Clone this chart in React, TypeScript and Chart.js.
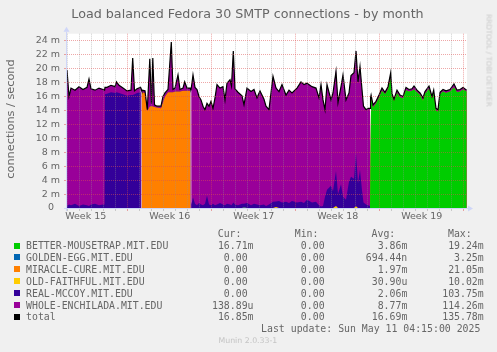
import { useEffect, useRef } from 'react';
import { Chart, registerables } from 'chart.js';

Chart.register(...registerables);

// ---------------------------------------------------------------------------
// Data (connections / second, in milli units "m").
// Sample times are hours since the left edge of the graph (800 h shown).
// ---------------------------------------------------------------------------
const hours = [
  // whole-enchilada carries the load
  0, 4, 8, 16, 24, 32, 40, 44, 48, 56, 64, 72, 75.2,
  // real-mccoy carries the load
  76, 80, 88, 96, 99, 104, 112, 120, 128, 131.4, 135, 140, 147.2,
  147.6, 149.2,
  // miracle-cure carries the load
  149.6, 156, 160.6, 165.6, 169, 171.6, 175, 180, 188, 192, 196, 202, 208.6, 212,
  216, 222, 226, 232, 235.4, 240, 246.4,
  246.8, 248.2,
  // whole-enchilada carries the load
  248.6, 252, 256, 260, 264, 268, 272, 276, 280, 284,
  288, 292, 296, 300, 306, 312, 316, 320, 326, 329,
  332.6, 336, 342, 350, 354, 360, 368, 374, 380, 386,
  394, 398, 404, 412, 418, 424, 430, 438, 444, 450,
  460, 468, 474, 480, 490, 498, 504, 508, 512, 516,
  520, 528, 532, 538, 542, 548, 552, 558, 564, 568,
  574, 578, 582, 586, 590, 593, 598, 602, 606,
  606.4, 607.8,
  // better-mousetrap carries the load
  608.2, 612, 618, 624, 630, 636, 642, 647.4, 650, 654,
  660, 666, 672, 678, 684, 690, 694, 700, 706, 712,
  716, 724, 730, 733.4, 738, 742, 746, 752, 758, 766,
  774, 780, 786, 792, 799.4,
];

const total = [
  19.8, 16.0, 17.2, 16.9, 17.4, 17.0, 17.3, 18.5, 17.1, 16.9, 17.2, 17.0, 16.9,
  17.3, 17.3, 17.6, 17.4, 18.1, 17.6, 17.2, 16.8, 16.9, 21.5, 16.8, 17.1, 17.3,
  17.2, 17.0,
  16.9, 16.8, 14.1, 21.4, 15.0, 21.5, 14.8, 14.6, 14.6, 16.0, 16.5, 17.0, 23.8, 17.0,
  17.2, 19.1, 17.0, 17.2, 18.1, 17.2, 17.2,
  17.1, 17.0,
  17.0, 19.1, 17.3, 17.0, 16.0, 15.5, 14.6, 14.1, 15.0, 14.6,
  15.3, 14.3, 15.8, 17.7, 17.2, 17.4, 15.5, 17.9, 18.4, 17.5,
  22.5, 17.1, 16.6, 16.1, 14.8, 17.2, 16.7, 17.0, 15.8, 16.8,
  15.6, 14.6, 14.1, 18.9, 17.2, 16.7, 17.7, 16.2, 16.9, 16.5,
  17.2, 18.1, 17.7, 17.9, 17.4, 17.2, 15.8, 17.7, 15.5, 14.1,
  17.7, 15.5, 16.5, 19.6, 15.1, 17.4, 19.1, 15.5, 16.5, 19.0,
  19.4, 22.5, 18.1, 20.3, 17.0, 14.6, 14.1, 14.3, 14.3,
  14.8, 15.8,
  16.2, 14.8, 15.3, 16.2, 17.2, 16.6, 17.4, 19.4, 16.4, 15.6,
  16.9, 16.2, 16.0, 17.3, 17.0, 17.1, 17.5, 16.9, 16.5, 15.8,
  16.7, 17.5, 16.0, 16.9, 14.3, 14.1, 16.6, 17.0, 16.8, 17.0,
  17.8, 16.9, 17.0, 17.3, 16.9,
];

const betterMousetrap = [
  0, 0, 0, 0, 0, 0, 0, 0, 0, 0, 0, 0, 0,
  0, 0, 0, 0, 0, 0, 0, 0, 0, 0, 0, 0, 0,
  0, 0,
  0, 0, 0, 0, 0, 0, 0, 0, 0, 0, 0, 0, 0, 0,
  0, 0, 0, 0, 0, 0, 0,
  0, 0,
  0, 0, 0, 0, 0, 0, 0, 0, 0, 0,
  0, 0, 0, 0, 0, 0, 0, 0, 0, 0,
  0, 0, 0, 0, 0, 0, 0, 0, 0, 0,
  0, 0, 0, 0, 0, 0, 0, 0, 0, 0,
  0, 0, 0, 0, 0, 0, 0, 0, 0, 0,
  0, 0, 0, 0, 0, 0, 0, 0, 0, 0,
  0, 0, 0, 0, 0, 0, 0, 0, 0,
  0, 0,
  15.8, 14.4, 15.0, 15.8, 16.8, 16.3, 17.0, 18.6, 16.1, 15.3,
  16.5, 15.9, 15.7, 16.9, 16.7, 16.8, 17.0, 16.6, 16.2, 15.4,
  16.4, 17.1, 15.7, 16.5, 14.0, 13.8, 16.3, 16.7, 16.5, 16.7,
  17.3, 16.6, 16.7, 17.0, 16.7,
];

const miracleCure = [
  0, 0, 0, 0, 0, 0, 0, 0, 0, 0, 0, 0, 0,
  0, 0, 0, 0, 0, 0, 0, 0, 0, 0, 0, 0, 0,
  0, 0,
  16.6, 16.5, 13.9, 14.6, 14.6, 14.6, 14.5, 14.4, 14.3, 15.2, 16.0, 16.6, 16.6, 16.6,
  16.7, 16.7, 16.7, 16.8, 16.8, 16.8, 16.8,
  0, 0,
  0, 0, 0, 0, 0, 0, 0, 0, 0, 0,
  0, 0, 0, 0, 0, 0, 0, 0, 0, 0,
  0, 0, 0, 0, 0, 0, 0, 0, 0, 0,
  0, 0, 0, 0, 0, 0, 0, 0, 0, 0,
  0, 0, 0, 0, 0, 0, 0, 0, 0, 0,
  0, 0, 0, 0, 0, 0, 0, 0, 0, 0,
  0, 0, 0, 0, 0, 0, 0, 0, 0,
  0, 0,
  0, 0, 0, 0, 0, 0, 0, 0, 0, 0,
  0, 0, 0, 0, 0, 0, 0, 0, 0, 0,
  0, 0, 0, 0, 0, 0, 0, 0, 0, 0,
  0, 0, 0, 0, 0,
];

const realMccoy = [
  0.3, 0.5, 0.4, 0.6, 0.3, 0.5, 0.4, 0.3, 0.5, 0.6, 0.4, 0.5, 0.5,
  16.3, 16.4, 16.6, 16.5, 16.6, 16.5, 16.3, 16.1, 16.2, 16.2, 16.3, 16.5, 16.6,
  0, 0,
  0, 0, 0, 0, 0, 0, 0, 0, 0, 0, 0, 0, 0, 0,
  0, 0, 0, 0, 0, 0, 0,
  0, 0,
  0.5, 1.5, 0.6, 0.4, 0.7, 0.5, 0.4, 0.6, 1.8, 0.5,
  0.4, 0.6, 0.4, 0.5, 0.7, 0.5, 0.4, 0.6, 0.5, 0.4,
  0.8, 0.5, 0.4, 0.6, 0.5, 0.7, 0.4, 0.6, 0.5, 0.4,
  0.5, 0.3, 0.5, 0.9, 0.8, 1.0, 0.8, 0.9, 0.7, 1.0,
  0.8, 0.9, 0.7, 1.2, 0.8, 0.9, 0.4, 0.2, 0.3, 1.6,
  2.6, 3.2, 2.4, 5.0, 2.0, 3.4, 1.6, 1.2, 3.8, 4.5,
  4.2, 7.6, 3.5, 5.5, 2.5, 0.8, 0.5, 0.4, 0.3,
  0, 0,
  0, 0, 0, 0, 0, 0, 0, 0, 0, 0,
  0, 0, 0, 0, 0, 0, 0, 0, 0, 0,
  0, 0, 0, 0, 0, 0, 0, 0, 0, 0,
  0, 0, 0, 0, 0,
];

const wholeEnchilada = [
  19.5, 15.5, 16.8, 16.3, 17.1, 16.5, 16.9, 18.2, 16.6, 16.3, 16.8, 16.5, 16.4,
  1.0, 0.9, 1.0, 0.9, 1.5, 1.1, 0.9, 0.7, 0.7, 5.3, 0.5, 0.6, 0.7,
  0, 0,
  0.3, 0.3, 0.2, 6.8, 0.4, 6.9, 0.3, 0.2, 0.3, 0.8, 0.5, 0.4, 7.2, 0.4,
  0.5, 2.4, 0.3, 0.4, 1.3, 0.4, 0.4,
  0, 0,
  16.5, 17.6, 16.7, 16.6, 15.3, 15.0, 14.2, 13.5, 13.2, 14.1,
  14.9, 13.7, 15.4, 17.2, 16.5, 16.9, 15.1, 17.3, 17.9, 17.1,
  21.7, 16.6, 16.2, 15.5, 14.3, 16.5, 16.3, 16.4, 15.3, 16.4,
  15.1, 14.3, 13.6, 18.0, 16.4, 15.7, 16.9, 15.3, 16.2, 15.5,
  16.4, 17.2, 17.0, 16.7, 16.6, 16.3, 15.4, 17.5, 15.2, 12.5,
  15.1, 12.3, 14.1, 14.6, 13.1, 14.0, 17.5, 14.3, 12.7, 14.5,
  15.2, 14.9, 14.6, 14.8, 14.5, 13.8, 13.6, 13.9, 14.0,
  0, 0,
  0.4, 0.4, 0.3, 0.4, 0.4, 0.3, 0.4, 0.8, 0.3, 0.3,
  0.4, 0.3, 0.3, 0.4, 0.3, 0.3, 0.5, 0.3, 0.3, 0.4,
  0.3, 0.4, 0.3, 0.4, 0.3, 0.3, 0.3, 0.3, 0.3, 0.3,
  0.5, 0.3, 0.3, 0.3, 0.2,
];

// barely visible series: [hour, value]
const goldenEggPoints: [number, number][] = [[350, 0], [354, 0.1], [360, 0]];
const oldFaithfulPoints: [number, number][] = [
  [412, 0], [418, 0.15], [424, 0], [532, 0], [538, 0.3], [542, 0], [574, 0], [578, 0.25], [582, 0],
];

// axis labels (rrdtool pads the unit-less zero label)
const weekLabels = ['Week 15', 'Week 16', 'Week 17', 'Week 18', 'Week 19'];
const yTickLabels = ['0  ', '2 m', '4 m', '6 m', '8 m', '10 m', '12 m', '14 m', '16 m', '18 m', '20 m', '22 m', '24 m'];
const firstWeekBoundary = 121.4; // hour of the Week 15 / Week 16 boundary

// legend
const legendNames = [
  'BETTER-MOUSETRAP.MIT.EDU',
  'GOLDEN-EGG.MIT.EDU',
  'MIRACLE-CURE.MIT.EDU',
  'OLD-FAITHFUL.MIT.EDU',
  'REAL-MCCOY.MIT.EDU',
  'WHOLE-ENCHILADA.MIT.EDU',
  'total',
];
const legendColors = ['#00CC00', '#0066B3', '#FF8000', '#FFCC00', '#330099', '#990099', '#000000'];
const curValues = ['16.71m', '0.00 ', '0.00 ', '0.00 ', '0.00 ', '138.89u', '16.85m'];
const minValues = ['0.00 ', '0.00 ', '0.00 ', '0.00 ', '0.00 ', '0.00 ', '0.00 '];
const avgValues = ['3.86m', '694.44n', '1.97m', '30.90u', '2.06m', '8.77m', '16.69m'];
const maxValues = ['19.24m', '3.25m', '21.05m', '10.02m', '103.75m', '114.26m', '135.78m'];

// ---------------------------------------------------------------------------
const FONT = "'DejaVu Sans', sans-serif";
const MONO = "'DejaVu Sans Mono', monospace";
const TEXT = '#666666';
const MINOR_GRID = 'rgba(150,150,150,0.45)';
const MAJOR_GRID = 'rgba(222,79,79,0.5)';
const AXIS = '#CFD6F8';
const W = 497;

const weekLabelHours = weekLabels.map((_, i) => firstWeekBoundary - 84 + 168 * i);
const near = (a: number, b: number) => Math.abs(a - b) < 0.01;
const isLabelHour = (v: number) => weekLabelHours.some((h) => near(h, v));
const isWeekLine = (v: number) => {
  const r = (((v - firstWeekBoundary) % 168) + 168) % 168;
  return r < 0.01 || r > 167.99;
};

const bgPlugin = {
  id: 'canvasBg',
  beforeDraw(chart: any) {
    const { ctx, chartArea } = chart;
    ctx.save();
    ctx.fillStyle = '#FFFFFF';
    ctx.fillRect(chartArea.left, chartArea.top, chartArea.right - chartArea.left, chartArea.bottom - chartArea.top);
    ctx.restore();
  },
};

const axisPlugin = {
  id: 'rrdAxes',
  afterDraw(chart: any) {
    const { ctx, chartArea } = chart;
    const { left, right, top, bottom } = chartArea;
    ctx.save();
    ctx.strokeStyle = AXIS;
    ctx.fillStyle = AXIS;
    ctx.lineWidth = 1;
    ctx.beginPath();
    ctx.moveTo(left - 3, bottom + 0.5);
    ctx.lineTo(right + 2, bottom + 0.5);
    ctx.moveTo(left - 0.5, bottom + 3);
    ctx.lineTo(left - 0.5, top - 2);
    ctx.stroke();
    ctx.beginPath();
    ctx.moveTo(right + 6, bottom + 0.5);
    ctx.lineTo(right + 1, bottom - 2.5);
    ctx.lineTo(right + 1, bottom + 3.5);
    ctx.closePath();
    ctx.fill();
    ctx.beginPath();
    ctx.moveTo(left - 0.5, top - 7);
    ctx.lineTo(left - 3.5, top - 2);
    ctx.lineTo(left + 2.5, top - 2);
    ctx.closePath();
    ctx.fill();
    ctx.restore();
  },
};

const topFor = (baseline: number, fs: number, lh: number) => baseline - (lh - 1.164 * fs) / 2 - 0.928 * fs;

export default function App() {
  const canvasRef = useRef<HTMLCanvasElement>(null);

  useEffect(() => {
    const canvas = canvasRef.current;
    if (!canvas) return;

    const toPoints = (vals: number[]) => hours.map((x, i) => ({ x, y: vals[i] }));
    const area = (label: string, data: { x: number; y: number }[], color: string) => ({
      label,
      data,
      stack: 'hosts',
      fill: 'origin',
      backgroundColor: color,
      borderColor: 'rgba(0,0,0,0)',
      borderWidth: 0,
      pointRadius: 0,
      tension: 0,
    });

    const dayTicks: number[] = [];
    for (let h = firstWeekBoundary - 5 * 24; h <= 800; h += 24) dayTicks.push(h);
    const xTicks = [...dayTicks, ...weekLabelHours].sort((a, b) => a - b);
    const yTicks: number[] = [];
    for (let v = 0; v <= 25; v += 1) yTicks.push(v);

    const chart = new Chart(canvas, {
      type: 'line',
      data: {
        datasets: [
          {
            label: 'total',
            data: toPoints(total),
            stack: 'total',
            fill: false,
            borderColor: '#000000',
            borderWidth: 1.2,
            pointRadius: 0,
            tension: 0,
          } as any,
          area(legendNames[0], toPoints(betterMousetrap), legendColors[0]),
          area(legendNames[1], goldenEggPoints.map(([x, y]) => ({ x, y })), legendColors[1]),
          area(legendNames[2], toPoints(miracleCure), legendColors[2]),
          area(legendNames[3], oldFaithfulPoints.map(([x, y]) => ({ x, y })), legendColors[3]),
          area(legendNames[4], toPoints(realMccoy), legendColors[4]),
          area(legendNames[5], toPoints(wholeEnchilada), legendColors[5]),
        ],
      },
      options: {
        animation: false,
        responsive: false,
        maintainAspectRatio: false,
        devicePixelRatio: 1,
        events: [],
        layout: { padding: { left: 0, top: 33.7, right: 30, bottom: 0 } },
        plugins: {
          legend: { display: false },
          tooltip: { enabled: false },
          title: { display: false },
        },
        scales: {
          x: {
            type: 'linear',
            min: 0,
            max: 800,
            afterFit(s: any) {
              s.height = 24;
            },
            afterBuildTicks(s: any) {
              s.ticks = xTicks.map((value) => ({ value }));
            },
            ticks: {
              autoSkip: false,
              maxRotation: 0,
              padding: 0,
              color: TEXT,
              font: { family: FONT, size: 9.5 },
              callback(value: any) {
                const i = weekLabelHours.findIndex((h) => near(h, Number(value)));
                return i >= 0 ? weekLabels[i] : '';
              },
            },
            grid: {
              z: 1,
              lineWidth: 1,
              drawTicks: true,
              tickLength: 3,
              color: (c: any) => {
                const v = c.tick ? c.tick.value : 0;
                if (isLabelHour(v)) return 'rgba(0,0,0,0)';
                return isWeekLine(v) ? MAJOR_GRID : MINOR_GRID;
              },
              tickColor: (c: any) => {
                const v = c.tick ? c.tick.value : 0;
                if (isLabelHour(v)) return 'rgba(0,0,0,0)';
                return isWeekLine(v) ? MAJOR_GRID : MINOR_GRID;
              },
            },
            border: { display: false, dash: [1, 1] },
          },
          y: {
            type: 'linear',
            stacked: true,
            min: 0,
            max: 25,
            afterFit(s: any) {
              s.width = 67;
            },
            afterBuildTicks(s: any) {
              s.ticks = yTicks.map((value) => ({ value }));
            },
            ticks: {
              padding: 4,
              color: TEXT,
              font: { family: FONT, size: 9.5 },
              callback(value: any) {
                const v = Number(value);
                return v % 2 === 0 ? yTickLabels[v / 2] ?? '' : '';
              },
            },
            grid: {
              z: 1,
              lineWidth: 1,
              drawTicks: true,
              tickLength: 3,
              color: (c: any) => {
                const v = c.tick ? c.tick.value : 0;
                if (v === 0) return 'rgba(0,0,0,0)';
                return v % 2 === 0 ? MAJOR_GRID : MINOR_GRID;
              },
              tickColor: (c: any) => {
                const v = c.tick ? c.tick.value : 0;
                return v % 2 === 0 ? MAJOR_GRID : MINOR_GRID;
              },
            },
            border: { display: false, dash: [1, 1] },
          },
        },
      } as any,
      plugins: [bgPlugin, axisPlugin],
    });

    return () => chart.destroy();
  }, []);

  const legendFs = 9.85;
  const legendLh = 12;
  const rowBase = (k: number) => 249.3 + 11.93 * k;
  const colRight = [253.5, 330.5, 407.3, 483.7];
  const headers = ['Cur:', 'Min:', 'Avg:', 'Max:'];
  const columns = [curValues, minValues, avgValues, maxValues];

  const monoText = (text: string, baseline: number, extra: any, key: string) => (
    <div
      key={key}
      style={{
        position: 'absolute',
        top: topFor(baseline, legendFs, legendLh),
        height: legendLh,
        lineHeight: `${legendLh}px`,
        fontFamily: MONO,
        fontSize: legendFs,
        color: TEXT,
        whiteSpace: 'pre',
        ...extra,
      }}
    >
      {text}
    </div>
  );

  return (
    <div
      style={{
        position: 'absolute',
        left: 0,
        top: 0,
        width: W,
        height: 352,
        background: '#F0F0F0',
        overflow: 'hidden',
        fontFamily: FONT,
      }}
    >
      <canvas ref={canvasRef} width={W} height={232} style={{ position: 'absolute', left: 0, top: 0, width: W, height: 232 }} />

      {/* title */}
      <div
        style={{
          position: 'absolute',
          left: 0,
          width: W - 2,
          top: topFor(18.3, 12.7, 15),
          height: 15,
          lineHeight: '15px',
          fontSize: 12.7,
          textAlign: 'center',
          color: TEXT,
          whiteSpace: 'nowrap',
        }}
      >
        Load balanced Fedora 30 SMTP connections - by month
      </div>

      {/* vertical axis title */}
      <div
        style={{
          position: 'absolute',
          left: 11.4 - 100,
          top: 118.8 - 7,
          width: 200,
          height: 14,
          lineHeight: '14px',
          fontSize: 11.3,
          textAlign: 'center',
          color: TEXT,
          whiteSpace: 'nowrap',
          transform: 'rotate(-90deg)',
        }}
      >
        connections / second
      </div>

      {/* rrdtool watermark */}
      <div
        style={{
          position: 'absolute',
          left: 489.2 - 75,
          top: 60.8 - 4.5,
          width: 150,
          height: 9,
          lineHeight: '9px',
          fontSize: 7.2,
          textAlign: 'center',
          color: '#C8C8C8',
          whiteSpace: 'nowrap',
          transform: 'rotate(90deg)',
        }}
      >
        RRDTOOL / TOBI OETIKER
      </div>

      {/* legend header */}
      {headers.map((h, i) => monoText(h, rowBase(-1), { right: W - (colRight[i] - 12.04), textAlign: 'right' }, `h${i}`))}

      {/* legend rows */}
      {legendNames.map((name, k) => (
        <div key={`r${k}`}>
          <div
            style={{
              position: 'absolute',
              left: 14,
              top: rowBase(k) - 6.8,
              width: 6,
              height: 6,
              background: legendColors[k],
            }}
          />
          {monoText(name, rowBase(k), { left: 26.1 }, `n${k}`)}
          {columns.map((col, i) => monoText(col[k], rowBase(k), { right: W - colRight[i], textAlign: 'right' }, `c${k}-${i}`))}
        </div>
      ))}

      {monoText('Last update: Sun May 11 04:15:00 2025', rowBase(7), { left: 261.1 }, 'upd')}

      {/* munin version */}
      <div
        style={{
          position: 'absolute',
          left: 218.5,
          top: topFor(344, 7.8, 10),
          height: 10,
          lineHeight: '10px',
          fontSize: 7.8,
          color: '#C4C4C4',
          whiteSpace: 'nowrap',
        }}
      >
        Munin 2.0.33-1
      </div>
    </div>
  );
}
